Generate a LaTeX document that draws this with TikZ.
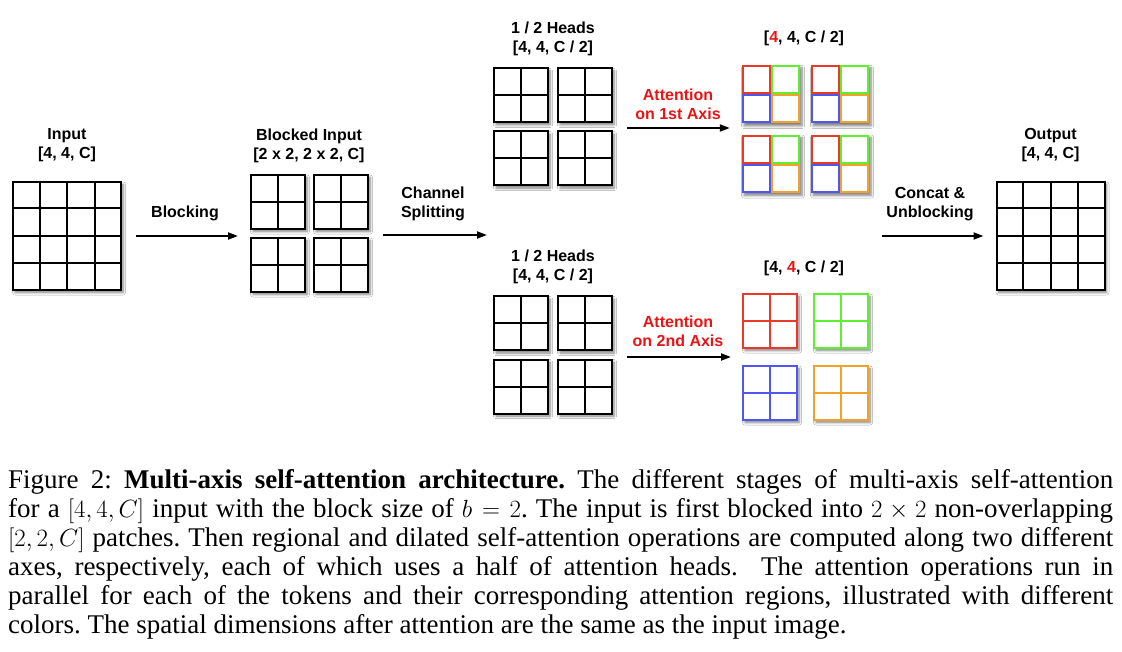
\documentclass[tikz,border=0pt]{standalone}
\usepackage{fontspec}
\setmainfont{Liberation Serif}
\newfontfamily\lblfont{Liberation Sans}
\usetikzlibrary{arrows.meta,shadows.blur,calc}

\definecolor{cred}{RGB}{232,58,40}
\definecolor{cgreen}{RGB}{96,238,48}
\definecolor{cblue}{RGB}{80,86,240}
\definecolor{corange}{RGB}{240,162,42}
\definecolor{tred}{RGB}{235,20,20}

\tikzset{
 lbl/.style={font=\lblfont\bfseries\fontsize{16}{19}\selectfont, align=center, inner sep=0},
 rlbl/.style={lbl, text=tred},
 shad/.style={blur shadow={shadow xshift=2pt, shadow yshift=-2.5pt, shadow blur radius=2.5pt, shadow blur steps=6, shadow opacity=50}},
 bigbox/.style={draw=black, line width=2pt, fill=white, minimum size=108pt, inner sep=0, shad},
 sqbox/.style={draw=#1, line width=2pt, fill=white, minimum size=54pt, inner sep=0, shad},
 sqbox/.default=black,
 qback/.style={fill=white, minimum size=58pt, inner sep=0, shad},
 cellbox/.style={draw=#1, line width=2pt, fill=white, minimum size=27pt, inner sep=0},
 gl/.style={line width=2pt},
 arr/.style={line width=2pt, -{Triangle[length=10pt,width=7pt]}},
}

\newcommand{\gridfour}[1]{%
  \foreach \k in {1,2,3} {
    \draw[gl] ($(#1.north west)!\k/4!(#1.north east)$) -- ($(#1.south west)!\k/4!(#1.south east)$);
    \draw[gl] ($(#1.north west)!\k/4!(#1.south west)$) -- ($(#1.north east)!\k/4!(#1.south east)$);
  }}
\newcommand{\gridtwo}[2]{%
  \draw[gl,#2] (#1.north) -- (#1.south);
  \draw[gl,#2] (#1.west) -- (#1.east);}
\newcommand{\blocksq}[4]{% name, x, y, colour
  \node[sqbox=#4] (#1) at (#2,#3) {};
  \gridtwo{#1}{#4}}
\newcommand{\quadcells}[3]{% name, x, y
  \node[qback] (#1) at (#2,#3) {};
  \node[cellbox=cred]    (#1r) at ($(#1)+(-14.5,-14.5)$) {};
  \node[cellbox=cgreen]  (#1g) at ($(#1)+(14.5,-14.5)$) {};
  \node[cellbox=cblue]   (#1b) at ($(#1)+(-14.5,14.5)$) {};
  \node[cellbox=corange] (#1o) at ($(#1)+(14.5,14.5)$) {};}
\newcommand{\capline}[1]{\makebox[1105pt][s]{#1}}

\begin{document}
\begin{tikzpicture}[x=1pt,y=-1pt]
\useasboundingbox[fill=white] (0,0) rectangle (1122,652);

% Input
\node[lbl] (inlbl) at (67,145.5) {Input\\{[4, 4, C]}};
\node[bigbox] (in) at (67,236) {};
\gridfour{in}

% Blocked input
\node[lbl] (blbl) at (309,145.5) {Blocked Input\\{[2 x 2, 2 x 2, C]}};
\blocksq{bTL}{278}{202}{black}
\blocksq{bTR}{341}{202}{black}
\blocksq{bBL}{278}{265}{black}
\blocksq{bBR}{341}{265}{black}

% Heads (top)
\node[lbl] (htlbl) at (553,38.5) {1 / 2 Heads\\{[4, 4, C / 2]}};
\blocksq{hTL}{521}{95.5}{black}
\blocksq{hTR}{585}{95.5}{black}
\blocksq{hBL}{521}{158.5}{black}
\blocksq{hBR}{585}{158.5}{black}

% Heads (bottom)
\node[lbl] (hblbl) at (553,267) {1 / 2 Heads\\{[4, 4, C / 2]}};
\blocksq{gTL}{521}{323.5}{black}
\blocksq{gTR}{585}{323.5}{black}
\blocksq{gBL}{521}{386.5}{black}
\blocksq{gBR}{585}{386.5}{black}

% Attention on 1st axis (top)
\node[lbl] (c1lbl) at (804,38) {[{\color{tred}4}, 4, C / 2]};
\quadcells{qa}{771}{94.5}
\quadcells{qb}{840}{94.5}
\quadcells{qc}{771}{164}
\quadcells{qd}{840}{164}

% Attention on 2nd axis (bottom)
\node[lbl] (c2lbl) at (804,268) {[4, {\color{tred}4}, C / 2]};
\blocksq{pR}{770}{321}{cred}
\blocksq{pG}{841}{321}{cgreen}
\blocksq{pB}{770}{393}{cblue}
\blocksq{pO}{841}{393}{corange}

% Output
\node[lbl] (outlbl) at (1050.5,145.5) {Output\\{[4, 4, C]}};
\node[bigbox] (out) at (1050.5,236) {};
\gridfour{out}

% Arrow labels
\node[lbl] (l1) at (185,213) {Blocking};
\node[lbl] (l2) at (433,204) {Channel\\Splitting};
\node[rlbl] (l3) at (678,104) {Attention\\on 1st Axis};
\node[rlbl] (l4) at (678,331) {Attention\\on 2nd Axis};
\node[lbl] (l5) at (930,204) {Concat \&\\Unblocking};

% Arrows
\coordinate (split) at (487,235);
\coordinate (cat) at (882,236);
\draw[arr] ([xshift=14pt]in.east) -- ([xshift=-12pt]in.east -| bBL.west);
\draw[arr] ([xshift=14pt]bTR.east |- split) -- (split);
\draw[arr] ([xshift=14pt]hTR.east |- 0,128) -- ([xshift=-12pt]qa.west |- 0,128);
\draw[arr] ([xshift=14pt]gTR.east |- 0,357) -- ([xshift=-11pt]pR.west |- 0,357);
\draw[arr] (cat) -- ([xshift=-12pt]out.west);

% Caption
\node[anchor=north west, inner sep=0, align=left, font=\fontsize{27}{29}\selectfont\frenchspacing] (cap) at (8,469.5) {%
\capline{Figure 2: \textbf{Multi-axis self-attention architecture.} The different stages of multi-axis self-attention}\\
\capline{for a $[4,4,C]$ input with the block size of $b=2$. The input is first blocked into $2\times 2$ non-overlapping}\\
\capline{$[2,2,C]$ patches. Then regional and dilated self-attention operations are computed along two different}\\
\capline{axes, respectively, each of which uses a half of attention heads.\ \ The attention operations run in}\\
\capline{parallel for each of the tokens and their corresponding attention regions, illustrated with different}\\
colors. The spatial dimensions after attention are the same as the input image.};
\end{tikzpicture}
\end{document}
